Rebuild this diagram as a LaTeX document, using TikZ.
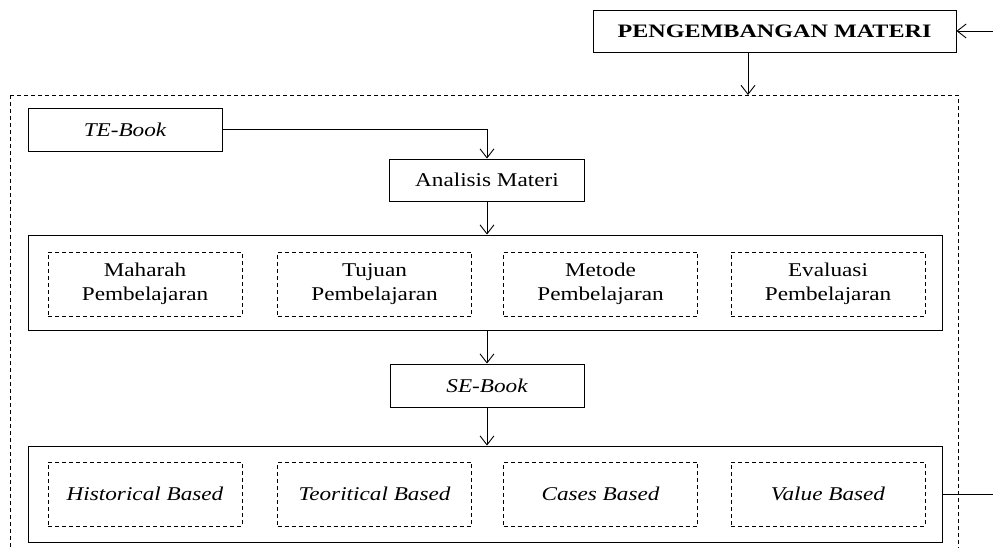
\documentclass[tikz,border=0pt]{standalone}
\usepackage{fontspec}
\setmainfont{Liberation Serif}[FakeStretch=1.19]
\newfontfamily\pmfont{Liberation Serif}[FakeStretch=1.27]
\usetikzlibrary{arrows.meta}
\begin{document}
\begin{tikzpicture}[x=1pt,y=-1pt,
  line width=0.9pt,
  arr/.style={-{Straight Barb[length=9pt,width=14pt,line width=0.9pt]}},
  solidbox/.style={draw,rectangle,inner sep=0pt,font=\fontsize{19.5}{22}\selectfont},
  dbox/.style={draw,rectangle,dash pattern=on 4pt off 3pt,inner sep=0pt,minimum width=194pt,minimum height=64pt,align=center,font=\fontsize{19.5}{24}\selectfont},
  outer/.style={draw,dash pattern=on 4pt off 3pt}
]
\useasboundingbox (0,0) rectangle (993,548);
\clip (0,0) rectangle (993,548);
% outer dashed frame
\draw[outer] (10,95) rectangle (958,570);
% top box
\node[solidbox,minimum width=363pt,minimum height=42pt,font=\pmfont\fontsize{19}{22}\selectfont\bfseries] (pm) at (774.5,31) {PENGEMBANGAN MATERI};
\coordinate (rin) at (993,31);
\draw[arr] (rin) -- (pm.east);
\coordinate (ftop) at (748,95);
\draw[arr] (pm.south -| ftop) -- (ftop);
% TE-Book
\node[solidbox,minimum width=194pt,minimum height=43pt] (te) at (125,129.5) {\itshape TE-Book};
\node[solidbox,minimum width=195pt,minimum height=42pt] (am) at (487,180) {Analisis Materi};
\draw[arr] (te.east) -| (am.north);
% box 1
\node[solidbox,minimum width=914pt,minimum height=95pt] (b1) at (485,282.5) {};
\draw[arr] (am.south) -- (am.south |- b1.north);
\node[dbox] (m1) at (145,284) {Maharah\\Pembelajaran};
\node[dbox] (m2) at (374.5,284) {Tujuan\\Pembelajaran};
\node[dbox] (m3) at (600.5,284) {Metode\\Pembelajaran};
\node[dbox] (m4) at (828,284) {Evaluasi\\Pembelajaran};
% SE-Book
\node[solidbox,minimum width=194pt,minimum height=43pt] (se) at (487,385.5) {\itshape SE-Book};
\draw[arr] (se.north |- b1.south) -- (se.north);
% box 2
\node[solidbox,minimum width=914pt,minimum height=96pt] (b2) at (485,494) {};
\draw[arr] (se.south) -- (se.south |- b2.north);
\node[dbox] (h1) at (145,494) {\itshape Historical Based};
\node[dbox] (h2) at (374.5,494) {\itshape Teoritical Based};
\node[dbox] (h3) at (600.5,494) {\itshape Cases Based};
\node[dbox] (h4) at (828,494) {\itshape Value Based};
\coordinate (rout) at (993,494);
\draw (b2.east) -- (rout);
\end{tikzpicture}
\end{document}
